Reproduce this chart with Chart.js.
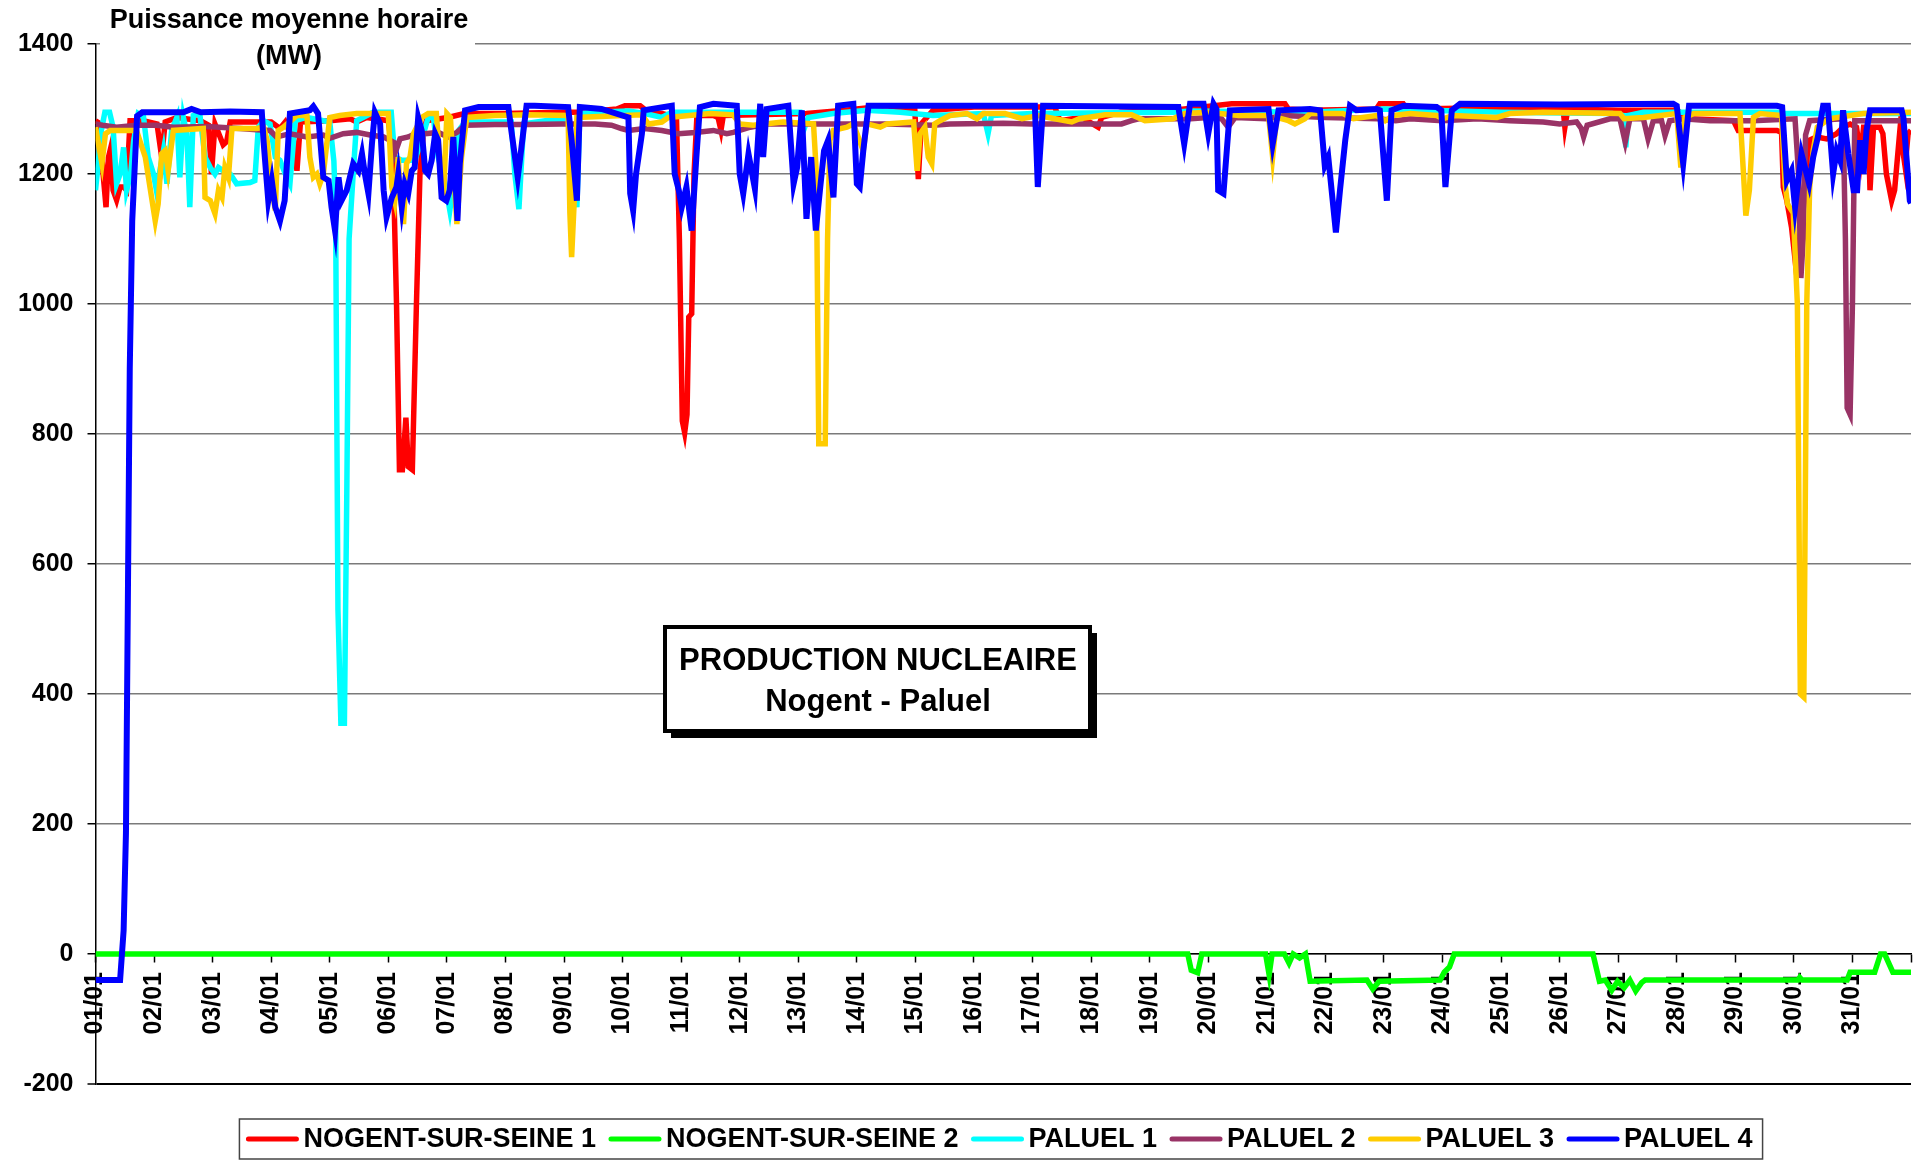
<!DOCTYPE html>
<html>
<head>
<meta charset="utf-8">
<script src="https://cdn.jsdelivr.net/npm/chart.js@4.4.1/dist/chart.umd.min.js"></script>
<style>
  html, body { margin: 0; padding: 0; background: #fff; }
  #wrap { width: 1919px; height: 1162px; position: relative; }
</style>
</head>
<body>
<div id="wrap"><canvas id="chart"></canvas></div>
<script>
// time in days since 01/01 00:00, power in MW
const seriesNames = ['NOGENT-SUR-SEINE 1', 'NOGENT-SUR-SEINE 2', 'PALUEL 1', 'PALUEL 2', 'PALUEL 3', 'PALUEL 4'];
const seriesColors = ['#FF0000', '#00FF00', '#00FFFF', '#993366', '#FFCC00', '#0000FF'];
const dayLabels = ['01/01','02/01','03/01','04/01','05/01','06/01','07/01','08/01','09/01','10/01',
  '11/01','12/01','13/01','14/01','15/01','16/01','17/01','18/01','19/01','20/01','21/01',
  '22/01','23/01','24/01','25/01','26/01','27/01','28/01','29/01','30/01','31/01'];

const nogent1Days = [0,0.07,0.13,0.18,0.22,0.26,0.3,0.36,0.42,0.48,0.53,0.59,0.82,1.05,1.13,1.19,1.39,1.79,1.93,1.98,
  2.04,2.18,2.24,2.3,3.0,3.15,3.24,3.38,3.44,3.5,4.0,4.35,4.46,4.63,5.0,5.08,5.14,5.19,5.24,5.3,5.34,5.41,5.48,5.54,5.6,5.65,
  6.02,6.3,7.0,7.96,8.3,8.9,9.04,9.3,9.44,9.67,9.92,9.97,10.02,10.06,10.1,10.13,10.18,10.22,10.27,10.55,10.63,10.68,10.72,
  12.14,12.8,13.51,13.99,14.05,14.1,14.3,15.0,16.38,16.47,16.84,17.12,17.18,17.5,18.4,19.4,20.31,20.37,20.74,21.87,21.93,
  22.33,22.39,24.84,25.06,25.09,25.14,26.0,27.0,27.23,27.97,28.05,28.71,28.79,28.82,28.88,28.96,29.03,29.1,29.18,29.27,
  29.39,29.56,29.73,29.84,29.96,30.07,30.14,30.19,30.27,30.3,30.36,30.47,30.52,30.58,30.67,30.72,30.81,30.9,30.95,31.0];
const nogent1MW = [1282,1278,1200,1149,1225,1240,1175,1160,1180,1180,1175,1282,1282,1277,1226,1280,1287,1282,1275,1200,
  1277,1245,1250,1280,1280,1270,1280,1252,1205,1280,1282,1285,1280,1287,1282,1226,1000,745,745,825,750,745,1000,1200,1265,1282,
  1287,1293,1293,1295,1295,1300,1305,1305,1295,1293,1287,1100,820,802,830,980,985,1200,1290,1290,1287,1267,1290,
  1293,1298,1305,1298,1192,1277,1298,1303,1303,1282,1287,1272,1287,1295,1298,1308,1308,1300,1298,1300,1308,
  1308,1300,1303,1300,1272,1300,1298,1298,1285,1282,1267,1267,1264,1180,1159,1118,1060,1100,1160,1252,
  1257,1254,1262,1272,1277,1272,1226,1272,1272,1175,1272,1272,1262,1200,1159,1175,1267,1211,1262,1267];

const nogent2Days = [0,18.65,18.71,18.82,18.89,19.98,20.04,20.09,20.3,20.38,20.45,20.56,20.66,20.74,21.71,21.81,21.92,
  22.96,23.03,23.12,23.2,25.57,25.68,25.78,25.89,25.99,26.1,26.2,26.3,26.4,26.46,29.07,29.1,29.14,29.91,29.96,30.38,30.48,
  30.55,30.69,31.0];
const nogent2MW = [0,0,-25,-29,0,0,-32,0,0,-14,0,-6,0,-42,-40,-54,-42,
  -40,-28,-20,0,0,-42,-40,-56,-42,-52,-40,-57,-44,-40,-40,-36,-40,-40,-28,-28,0,
  0,-28,-28];

const paluel1Days = [0,0.04,0.1,0.16,0.24,0.3,0.36,0.42,0.48,0.53,0.6,0.65,0.73,0.82,0.9,0.99,1.04,1.16,1.22,1.3,1.39,
  1.44,1.5,1.56,1.61,1.67,1.78,1.87,1.96,2.04,2.1,2.18,2.3,2.41,2.64,2.72,2.78,2.87,2.98,3.07,3.15,3.24,3.32,3.41,3.6,
  3.89,4.0,4.07,4.1,4.14,4.19,4.25,4.29,4.33,4.4,4.46,4.74,5.05,5.11,5.23,5.34,5.45,5.57,5.68,5.77,5.85,5.97,6.05,6.14,
  6.2,6.31,7.1,7.16,7.23,7.31,7.68,8.07,8.13,8.22,8.27,8.53,9.1,9.38,9.67,9.84,10.5,12.03,12.09,12.17,12.6,13.17,
  13.74,14.3,15.16,15.24,15.3,16.0,18.4,18.7,20.74,22.0,24.0,25.9,26.09,26.13,26.17,26.43,28.7,28.82,31.0];
const paluel1MW = [1175,1210,1267,1295,1295,1272,1185,1200,1241,1175,1200,1250,1293,1288,1226,1200,1175,1236,1185,1267,1287,
  1195,1287,1262,1149,1290,1293,1226,1210,1200,1210,1205,1200,1185,1187,1190,1272,1282,1277,1226,1221,1200,1185,1282,1287,
  1282,1280,1220,1144,530,355,355,700,1100,1200,1282,1295,1295,1226,1221,1221,1221,1252,1287,1287,1226,1185,1144,1200,
  1267,1280,1280,1200,1146,1277,1282,1285,1226,1149,1293,1295,1297,1293,1287,1295,1295,1295,1267,1287,1293,1298,
  1295,1290,1293,1262,1290,1293,1295,1297,1295,1300,1295,1293,1290,1241,1290,1295,1295,1293,1293];

const paluel2Days = [0,0.12,0.36,0.7,1.04,1.33,1.9,2.47,2.75,2.98,3.09,3.32,3.61,3.89,4.0,4.23,4.46,4.69,4.92,5.09,
  5.11,5.2,5.34,5.51,5.63,5.85,6.02,6.17,6.31,6.82,7.39,7.96,8.53,8.81,8.98,9.1,9.38,9.67,9.95,10.24,10.55,10.78,10.89,
  11.18,11.46,12.0,13.5,14.3,14.59,15.5,16.0,17.52,17.69,17.81,18.7,19.0,19.23,19.34,19.46,20.0,20.3,21.0,21.9,22.2,
  22.45,23.0,23.6,24.15,24.72,25.0,25.29,25.37,25.41,25.47,25.86,26.03,26.12,26.2,26.43,26.51,26.6,26.74,26.8,26.88,
  27.11,27.57,28.3,29.02,29.08,29.12,29.16,29.2,29.27,29.84,29.88,29.91,29.96,30.0,30.04,30.5,31.0];
const paluel2MW = [1277,1275,1272,1275,1275,1272,1273,1270,1268,1267,1257,1262,1257,1260,1255,1262,1264,1260,1257,1249,
  1231,1254,1257,1264,1262,1264,1257,1264,1275,1276,1276,1277,1277,1275,1270,1267,1270,1267,1262,1264,1267,1262,1264,
  1272,1277,1277,1277,1275,1277,1278,1277,1277,1282,1285,1285,1287,1285,1272,1287,1285,1290,1287,1285,1282,
  1285,1282,1285,1282,1280,1277,1280,1270,1257,1275,1285,1285,1249,1285,1285,1254,1282,1282,1259,1282,
  1285,1282,1282,1285,1200,1040,1100,1260,1282,1285,1100,840,830,1000,1282,1282,1282];

const paluel3Days = [0,0.04,0.11,0.17,0.25,0.7,0.85,0.93,1.02,1.07,1.13,1.19,1.24,1.33,1.84,1.87,1.96,2.04,2.1,2.16,
  2.21,2.27,2.33,2.75,2.87,2.93,3.01,3.07,3.12,3.21,3.44,3.61,3.66,3.72,3.78,3.83,3.89,4.0,4.17,4.46,5.0,5.06,5.11,5.17,
  5.2,5.23,5.26,5.31,5.37,5.43,5.57,5.68,5.82,5.88,5.94,6.0,6.06,6.17,6.25,6.34,6.82,7.39,8.07,8.1,8.13,8.17,8.22,9.33,
  9.44,9.67,9.78,10.5,10.89,11.0,11.23,11.74,12.26,12.31,12.35,12.46,12.5,12.54,12.6,12.83,12.94,13.11,13.17,13.4,13.51,
  13.97,14.03,14.08,14.16,14.22,14.28,14.33,14.42,14.59,14.88,15.05,15.16,15.53,15.82,16.1,16.38,16.67,16.8,17.24,
  17.69,17.92,18.4,18.6,19.0,19.52,20.03,20.1,20.17,20.37,20.48,20.65,20.74,21.3,21.48,21.87,22.02,22.16,22.45,22.9,
  23.01,23.18,23.93,24.15,24.72,26.03,26.1,26.43,27.0,27.07,27.14,27.29,28.08,28.14,28.18,28.24,28.31,28.42,28.79,
  28.85,28.89,28.99,29.06,29.11,29.17,29.22,29.27,29.33,29.4,29.6,29.96,30.19,31.0];
const paluel3MW = [1272,1252,1216,1262,1267,1267,1226,1180,1128,1154,1231,1236,1205,1267,1270,1164,1159,1139,1175,1164,
  1210,1195,1270,1270,1272,1252,1180,1144,1267,1272,1290,1290,1226,1195,1200,1185,1200,1287,1290,1293,1293,1180,1159,1226,
  1164,1149,1123,1216,1226,1262,1287,1293,1293,1221,1159,1293,1287,1123,1226,1287,1290,1291,1290,1140,1072,1150,1287,1291,
  1277,1280,1287,1293,1291,1277,1275,1280,1277,1200,785,785,1100,1252,1267,1272,1277,1236,1277,1272,1277,
  1280,1205,1262,1272,1226,1216,1277,1282,1290,1293,1285,1293,1293,1285,1290,1285,1280,1285,1291,
  1291,1282,1285,1293,1295,1290,1290,1226,1287,1282,1277,1285,1293,1293,1285,1290,1282,1290,1293,1290,
  1285,1290,1287,1293,1295,1293,1285,1287,1293,1210,1287,1293,1293,1200,1136,1175,1287,1293,1290,
  1185,1154,1140,1000,400,395,1000,1180,1236,1272,1285,1290,1293,1295];

const paluel4Days = [0,0.42,0.48,0.52,0.585,0.627,0.71,0.8,1.5,1.64,1.8,2.3,2.84,2.87,2.95,3.01,3.07,3.15,3.23,3.32,
  3.66,3.72,3.8,3.89,3.98,4.03,4.09,4.15,4.2,4.29,4.4,4.49,4.55,4.6,4.66,4.72,4.77,4.86,4.92,4.97,5.06,5.14,5.17,5.23,
  5.28,5.34,5.4,5.45,5.51,5.57,5.63,5.68,5.74,5.8,5.85,5.91,5.99,6.05,6.11,6.18,6.22,6.31,6.54,7.05,7.1,7.21,7.28,7.36,
  7.5,8.07,8.13,8.22,8.27,8.64,9.1,9.13,9.18,9.23,9.33,9.36,9.84,9.89,9.96,10.01,10.09,10.18,10.26,10.32,10.55,10.95,
  11.0,11.06,11.15,11.26,11.35,11.4,11.46,11.83,11.92,11.98,12.06,12.14,12.22,12.3,12.37,12.44,12.51,12.6,12.68,12.94,
  13.0,13.05,13.11,13.2,14.0,16.04,16.09,16.18,18.49,18.59,18.69,18.92,19.0,19.09,19.14,19.17,19.26,19.37,20.03,20.1,
  20.2,20.74,20.91,20.99,21.05,21.18,21.25,21.34,21.42,21.53,21.88,21.93,22.05,22.13,22.33,22.9,22.98,23.05,23.16,23.3,
  25.0,26.94,27.0,27.11,27.21,28.71,28.8,28.88,28.96,29.02,29.13,29.26,29.33,29.41,29.5,29.58,29.67,29.73,29.79,29.84,
  29.93,30.02,30.08,30.13,30.19,30.24,30.3,30.84,30.87,30.98,31.0];
const paluel4MW = [-40,-40,36,186,900,1128,1289,1295,1295,1300,1295,1296,1295,1250,1159,1190,1149,1128,1159,1293,
  1298,1304,1293,1195,1190,1149,1113,1195,1159,1175,1216,1205,1231,1200,1170,1246,1295,1277,1175,1134,1164,1180,1200,1149,
  1185,1170,1205,1210,1287,1267,1205,1200,1221,1262,1252,1164,1159,1175,1257,1128,1216,1298,1303,1303,1267,1195,1246,1305,
  1305,1303,1252,1159,1303,1300,1287,1170,1144,1200,1262,1298,1305,1200,1175,1149,1180,1113,1226,1303,1308,1305,
  1200,1170,1231,1177,1308,1226,1300,1305,1185,1210,1298,1131,1226,1113,1175,1236,1252,1164,1305,1308,
  1185,1180,1236,1305,1305,1305,1180,1305,1303,1246,1308,1308,1262,1308,1300,1175,1170,1298,1300,1246,
  1298,1300,1298,1213,1226,1110,1175,1252,1305,1298,1300,1298,1159,1298,1305,1303,1298,1180,1298,1308,
  1307,1308,1305,1216,1305,1305,1303,1190,1205,1149,1231,1185,1226,1257,1305,1305,1200,1236,1221,1298,
  1231,1175,1175,1252,1200,1267,1298,1298,1287,1159,1155];

const seriesDays = [nogent1Days, nogent2Days, paluel1Days, paluel2Days, paluel3Days, paluel4Days];
const seriesMW = [nogent1MW, nogent2MW, paluel1MW, paluel2MW, paluel3MW, paluel4MW];

const FONT = '"Liberation Sans", Arial, Helvetica, sans-serif';
Chart.defaults.font.family = FONT;
Chart.defaults.color = '#000';

const whiteBg = {
  id: 'whiteBg',
  beforeDraw: (chart) => {
    const ctx = chart.ctx;
    ctx.save();
    ctx.fillStyle = '#fff';
    ctx.fillRect(0, 0, chart.width, chart.height);
    ctx.restore();
  }
};

// axis title, boxed caption and the boxed legend under the plot
const decorations = {
  id: 'decorations',
  afterDraw: (chart) => {
    const ctx = chart.ctx;
    ctx.save();
    // y axis title (sits over the 1400 gridline)
    ctx.fillStyle = '#fff';
    ctx.fillRect(100, 0, 375, 68);
    ctx.fillStyle = '#000';
    ctx.textAlign = 'center';
    ctx.textBaseline = 'middle';
    ctx.font = 'bold 27px ' + FONT;
    ctx.fillText('Puissance moyenne horaire', 289, 21);
    ctx.fillText('(MW)', 289, 57);

    // caption box with shadow
    ctx.fillStyle = '#000';
    ctx.fillRect(671, 633, 426, 105);
    ctx.fillStyle = '#fff';
    ctx.fillRect(665, 627, 425, 104);
    ctx.strokeStyle = '#000';
    ctx.lineWidth = 4;
    ctx.strokeRect(665, 627, 425, 104);
    ctx.fillStyle = '#000';
    ctx.font = 'bold 31px ' + FONT;
    ctx.fillText('PRODUCTION NUCLEAIRE', 878, 661);
    ctx.fillText('Nogent - Paluel', 878, 702);

    // legend
    ctx.font = 'bold 27px ' + FONT;
    const lineLen = 52, gapA = 5, gapB = 13;
    const widths = seriesNames.map(n => ctx.measureText(n).width);
    let total = 0;
    widths.forEach((w, i) => { total += lineLen + gapA + w + (i ? gapB : 0); });
    const left = 999.5 - total / 2;
    ctx.fillStyle = '#fff';
    ctx.fillRect(left - 7, 1119, total + 17, 40);
    ctx.strokeStyle = '#444';
    ctx.lineWidth = 1.5;
    ctx.strokeRect(left - 7, 1119, total + 17, 40);
    let x = left;
    ctx.textAlign = 'left';
    seriesNames.forEach((n, i) => {
      ctx.strokeStyle = seriesColors[i];
      ctx.lineWidth = 5;
      ctx.lineCap = 'round';
      ctx.beginPath();
      ctx.moveTo(x + 2, 1139);
      ctx.lineTo(x + lineLen - 2, 1139);
      ctx.stroke();
      ctx.fillStyle = '#000';
      ctx.fillText(n, x + lineLen + gapA, 1140);
      x += lineLen + gapA + widths[i] + gapB;
    });
    ctx.restore();
  }
};

const datasets = seriesNames.map((name, i) => ({
  label: name,
  data: seriesDays[i].map((d, k) => ({ x: d, y: seriesMW[i][k] })),
  borderColor: seriesColors[i],
  backgroundColor: seriesColors[i],
  borderWidth: i === 5 ? 6 : 5.5,
  pointRadius: 0,
  tension: 0,
  fill: false,
  order: 5 - i, // later series on top, like the original
}));

const ctx = document.getElementById('chart').getContext('2d');
const myChart = new Chart(ctx, {
  type: 'line',
  data: { datasets: datasets },
  options: {
    responsive: true,
    maintainAspectRatio: false,
    animation: false,
    layout: { padding: { top: 44, right: 8, bottom: 78, left: 0 } },
    plugins: {
      legend: { display: false },
      title: { display: false },
      tooltip: { enabled: false },
    },
    scales: {
      x: {
        type: 'linear',
        position: { y: 0 },
        min: 0,
        max: 31,
        afterFit: (scale) => { scale.paddingLeft = 0; scale.paddingRight = 0; },
        grid: {
          drawOnChartArea: false,
          drawTicks: true,
          tickLength: 8,
          tickColor: '#000',
          tickWidth: 1.5,
        },
        border: { color: '#000', width: 1.5 },
        ticks: {
          stepSize: 1,
          autoSkip: false,
          minRotation: 90,
          maxRotation: 90,
          padding: 10,
          color: '#000',
          font: { size: 25, weight: 'bold' },
          callback: (v) => (v < dayLabels.length ? dayLabels[v] : ''),
        },
      },
      y: {
        min: -200,
        max: 1400,
        afterFit: (scale) => { scale.width = 95.5; },
        grid: {
          color: (c) => (c.tick && c.tick.value === -200 ? '#000' : '#7a7a7a'),
          lineWidth: (c) => (c.tick && c.tick.value === -200 ? 2 : 1.5),
          tickLength: 8,
          tickColor: '#000',
          tickWidth: 1.5,
        },
        border: { color: '#000', width: 1.5 },
        ticks: {
          stepSize: 200,
          padding: 14,
          color: '#000',
          font: { size: 25, weight: 'bold' },
          callback: (v) => String(v),
        },
      },
    },
  },
  plugins: [whiteBg, decorations],
});
</script>
</body>
</html>
